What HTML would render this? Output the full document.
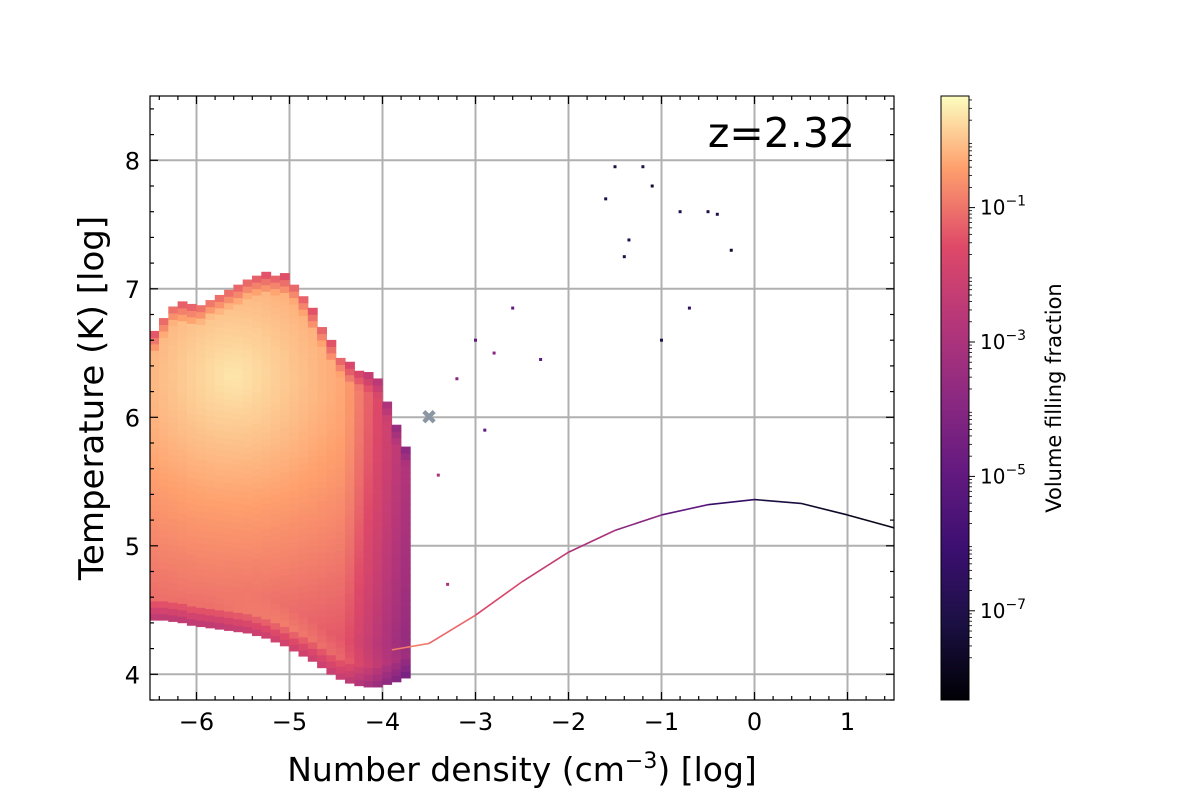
<!DOCTYPE html>
<html><head><meta charset="utf-8"><style>
body{margin:0;background:#fff;font-family:"Liberation Sans","DejaVu Sans",sans-serif}
svg text{font-family:"DejaVu Sans","Liberation Sans",sans-serif}
</style></head><body>
<svg id="chart" width="1200" height="800" xmlns="http://www.w3.org/2000/svg">
<defs>
<linearGradient id="cbg" x1="0" y1="1" x2="0" y2="0">
<stop offset="0" stop-color="#000004"/><stop offset="0.13" stop-color="#1c1044"/><stop offset="0.25" stop-color="#3b0f70"/><stop offset="0.38" stop-color="#641a80"/><stop offset="0.5" stop-color="#8c2981"/><stop offset="0.63" stop-color="#b73779"/><stop offset="0.75" stop-color="#de4968"/><stop offset="0.88" stop-color="#fe9f6d"/><stop offset="1" stop-color="#fcfdbf"/>
</linearGradient>
<clipPath id="plotclip"><rect x="150" y="96" width="744" height="604"/></clipPath>
</defs>
<g id="grid"></g>
<g id="heat" clip-path="url(#plotclip)"></g>
<g id="curve" clip-path="url(#plotclip)"></g>
<g id="scatter" clip-path="url(#plotclip)"></g>
<text x="429" y="424" font-size="20" fill="#8a96a3" text-anchor="middle">✖</text>
<rect x="150" y="96" width="744" height="604" fill="none" stroke="#000" stroke-width="1.2"/>
<g id="ticks"></g>
<text x="855" y="147" font-size="41" text-anchor="end">z=2.32</text>
<text x="522" y="781" font-size="33" text-anchor="middle">Number density (cm<tspan dy="-13" font-size="22">−3</tspan><tspan dy="13">) [log]</tspan></text>
<text transform="translate(103,398) rotate(-90)" font-size="34" text-anchor="middle">Temperature (K) [log]</text>
<rect x="941" y="96" width="28" height="604" fill="url(#cbg)" stroke="#000" stroke-width="1"/>
<g id="cbticks"></g>
<text transform="translate(1061,398) rotate(-90)" font-size="21" text-anchor="middle">Volume filling fraction</text>
</svg>
<script>
const xTicks=[-6,-5,-4,-3,-2,-1,0,1];
const yTicks=[4,5,6,7,8];
const cbTicks=[-1,-3,-5,-7];
const curveX=[-3.9,-3.5,-3.0,-2.5,-2.0,-1.5,-1.0,-0.5,0.0,0.5,1.0,1.5];
const curveT=[4.19,4.24,4.46,4.72,4.95,5.12,5.24,5.32,5.36,5.33,5.24,5.14];
const curveV=[-0.8,-1.0,-1.4,-2.0,-2.6,-3.4,-4.4,-5.6,-7.0,-7.5,-7.8,-8.0];
const colX=[-6.45,-6.35,-6.25,-6.15,-6.05,-5.95,-5.85,-5.75,-5.65,-5.55,-5.45,-5.35,-5.25,-5.15,-5.05,-4.95,-4.85,-4.75,-4.65,-4.55,-4.45,-4.35,-4.25,-4.15,-4.05,-3.95,-3.85,-3.75];
const colTop=[6.62,6.75,6.85,6.86,6.84,6.85,6.9,6.93,6.97,7.0,7.05,7.07,7.08,7.08,7.07,7.02,6.92,6.8,6.68,6.55,6.45,6.38,6.35,6.32,6.28,6.1,5.9,5.75];
const colBot=[4.42,4.42,4.41,4.4,4.38,4.37,4.36,4.35,4.34,4.33,4.32,4.3,4.28,4.25,4.22,4.18,4.14,4.1,4.05,4.0,3.96,3.93,3.91,3.9,3.9,3.92,3.94,3.97];
const sparseX=[-3.4,-3.2,-3.0,-2.8,-2.6,-2.3,-1.6,-1.5,-1.2,-1.1,-1.35,-0.8,-0.5,-0.4,-0.25,-1.0,-0.7,-1.4,-2.9,-3.3];
const sparseT=[5.55,6.3,6.6,6.5,6.85,6.45,7.7,7.95,7.95,7.8,7.38,7.6,7.6,7.58,7.3,6.6,6.85,7.25,5.9,4.7];
const sparseV=[-3,-4,-5,-4,-5,-5,-7,-7,-7,-7.5,-7,-7,-7,-7,-7.5,-7,-6.5,-7,-5,-3];

const NS='http://www.w3.org/2000/svg';
const X=v=>150+(v+6.5)*93, Y=t=>700-(t-3.8)*128.5, CB=v=>342-(v+3)*67.2;
const stops=[[0,[0,0,4]],[0.13,[28,16,68]],[0.25,[59,15,112]],[0.38,[100,26,128]],[0.5,[140,41,129]],[0.63,[183,55,121]],[0.75,[222,73,104]],[0.88,[254,159,109]],[1,[252,253,191]]];
function cmap(v){let n=(v+8.34)/9.0;n=Math.max(0,Math.min(1,n));for(let i=1;i<stops.length;i++){if(n<=stops[i][0]){const a=stops[i-1],b=stops[i],f=(n-a[0])/(b[0]-a[0]);return 'rgb('+a[1].map((c,k)=>Math.round(c+(b[1][k]-c)*f)).join(',')+')';}}return 'rgb(252,253,191)';}
function mk(tag,at,parent){const e=document.createElementNS(NS,tag);for(const k in at)e.setAttribute(k,at[k]);parent.appendChild(e);return e;}
const grid=document.getElementById('grid'),ticks=document.getElementById('ticks');
xTicks.forEach(v=>{const l=mk('line',{x1:X(v),x2:X(v),y1:96,y2:700,stroke:'#b0b0b0','stroke-width':2},grid);
 const t=mk('text',{x:X(v),y:730,'font-size':24,'text-anchor':'middle'},ticks);t.textContent=(v<0?'−':'')+Math.abs(v);});
yTicks.forEach(v=>{const l=mk('line',{x1:150,x2:894,y1:Y(v),y2:Y(v),stroke:'#b0b0b0','stroke-width':2},grid);
 const t=mk('text',{x:140,y:Y(v)+9,'font-size':24,'text-anchor':'end'},ticks);t.textContent=v;});
for(let i=-32;i<=7;i++){const v=i/5;if(v<-6.5||v>1.5)continue;const L=Number.isInteger(v)?8:4,x=X(v);
 mk('line',{x1:x,x2:x,y1:700,y2:700-L,stroke:'#000','stroke-width':1.2},ticks);mk('line',{x1:x,x2:x,y1:96,y2:96+L,stroke:'#000','stroke-width':1.2},ticks);}
for(let i=19;i<=42;i++){const v=i/5,L=(i%5==0)?8:4,y=Y(v);
 mk('line',{x1:150,x2:150+L,y1:y,y2:y,stroke:'#000','stroke-width':1.2},ticks);mk('line',{x1:894,x2:894-L,y1:y,y2:y,stroke:'#000','stroke-width':1.2},ticks);}
const cbt=document.getElementById('cbticks');
cbTicks.forEach(v=>{mk('line',{x1:969,x2:975,y1:CB(v),y2:CB(v),stroke:'#000','stroke-width':1},cbt);
 const t=mk('text',{x:980,y:CB(v)+7,'font-size':20},cbt);t.innerHTML='10<tspan dy="-9" font-size="14">−'+Math.abs(v)+'</tspan>';});
for(let d=-8;d<=0;d++)for(let m=2;m<10;m++){const v=d+Math.log10(m);if(v<-8.34||v>0.66)continue;mk('line',{x1:969,x2:972,y1:CB(v),y2:CB(v),stroke:'#000','stroke-width':0.8},cbt);}
const heat=document.getElementById('heat');const dT=0.05,w=93*0.1+0.6,h=128.5*dT+0.6;
colX.forEach((cx,i)=>{for(let t=colBot[i];t<colTop[i];t+=dT){
 const dx=(cx+5.6)/1.3,dy=(t-6.3)/1.0;let v=0.4-0.8*Math.sqrt(dx*dx+dy*dy);
 const et=Math.min(colTop[i]-t,t-colBot[i]);if(et<0.15)v-=(0.15-et)*8;
 if(cx>-4.4)v-=(cx+4.4)*3;
 const bt=t-colBot[i];if(bt<0.3)v+=0.6*Math.max(0,Math.min(1,(cx+5.8)/0.8))*(1-bt/0.3);
 const r=mk('rect',{x:X(cx-0.05)-0.3,y:Y(t+dT)-0.3,width:w,height:h,fill:cmap(v)},heat);
 }});
const cg=document.getElementById('curve');
for(let i=0;i<curveX.length-1;i++){const l=mk('line',{x1:X(curveX[i]),y1:Y(curveT[i]),x2:X(curveX[i+1]),y2:Y(curveT[i+1]),stroke:cmap((curveV[i]+curveV[i+1])/2),'stroke-width':1.6},cg);
 }
const sg=document.getElementById('scatter');
sparseX.forEach((x,i)=>{const r=mk('rect',{x:X(x)-1.5,y:Y(sparseT[i])-1.5,width:3,height:3,fill:cmap(sparseV[i])},sg);
 });
</script>
</body></html>
